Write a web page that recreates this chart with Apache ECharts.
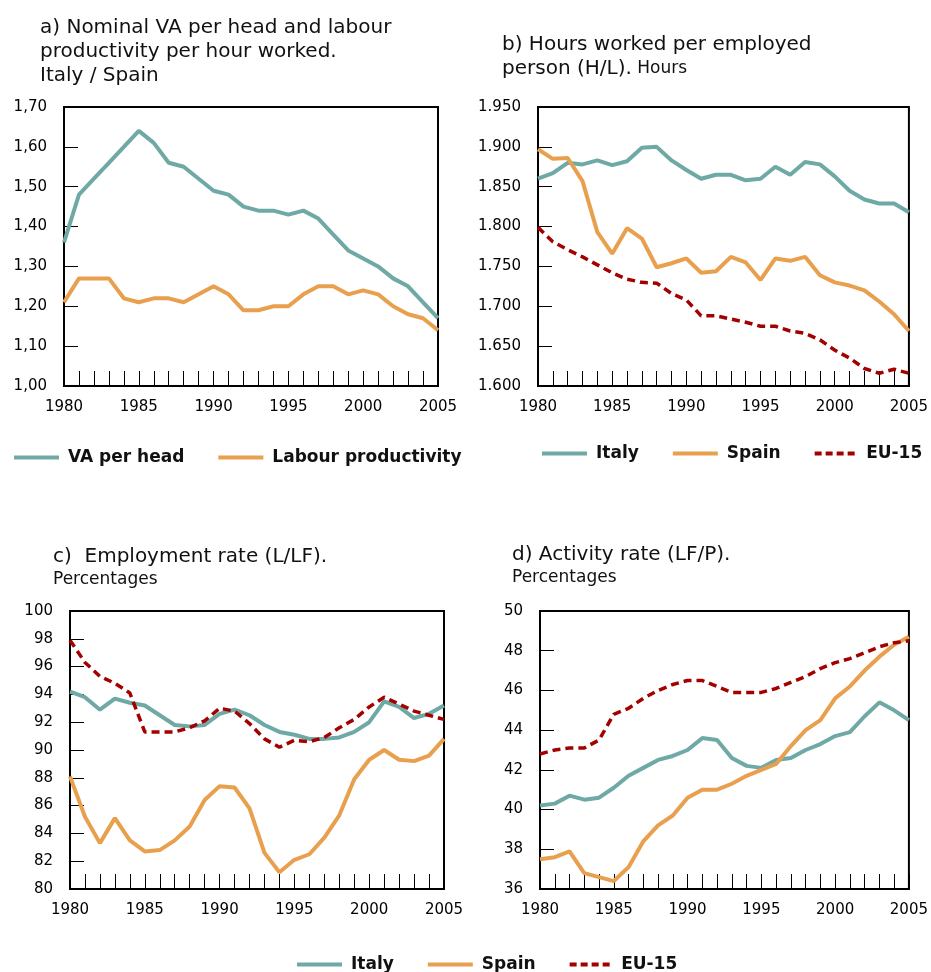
<!DOCTYPE html>
<html>
<head>
<meta charset="utf-8">
<script src="https://cdn.jsdelivr.net/npm/echarts@6/dist/echarts.min.js"></script>
<style>
  html, body { margin: 0; padding: 0; background: #fff; }
  #main { width: 931px; height: 972px; }
</style>
</head>
<body>
<div id="main"></div>
<script>
var myChart = echarts.init(document.getElementById('main'));

var years = [];
for (var y = 1980; y <= 2005; y++) years.push(String(y));

// a) Italy / Spain ratios
var vaPerHead = [1.36, 1.48, 1.52, 1.56, 1.60, 1.64, 1.61, 1.56, 1.55, 1.52, 1.49, 1.48, 1.45,
    1.44, 1.44, 1.43, 1.44, 1.42, 1.38, 1.34, 1.32, 1.30, 1.27, 1.25, 1.21, 1.17];
var labourProd = [1.21, 1.27, 1.27, 1.27, 1.22, 1.21, 1.22, 1.22, 1.21, 1.23, 1.25, 1.23, 1.19,
    1.19, 1.20, 1.20, 1.23, 1.25, 1.25, 1.23, 1.24, 1.23, 1.20, 1.18, 1.17, 1.14];

// b) hours worked per employed person
var hoursItaly = [1860, 1867, 1880, 1878, 1883, 1877, 1882, 1899, 1900, 1883, 1871, 1860, 1865,
    1865, 1858, 1860, 1875, 1865, 1881, 1878, 1863, 1845, 1834, 1829, 1829, 1818];
var hoursSpain = [1897, 1885, 1886, 1857, 1793, 1766, 1798, 1785, 1749, 1754, 1760, 1742, 1744,
    1762, 1755, 1733, 1760, 1757, 1762, 1739, 1730, 1726, 1720, 1706, 1690, 1669];
var hoursEU = [1799, 1781, 1771, 1762, 1752, 1742, 1734, 1730, 1729, 1716, 1708, 1688, 1688,
    1684, 1680, 1675, 1675, 1669, 1666, 1658, 1645, 1635, 1622, 1616, 1621, 1616];

// c) employment rate
var empItaly = [94.2, 93.8, 92.9, 93.7, 93.4, 93.2, 92.5, 91.8, 91.7, 91.8, 92.6, 92.9, 92.5,
    91.8, 91.3, 91.1, 90.8, 90.8, 90.9, 91.3, 92.0, 93.5, 93.1, 92.3, 92.6, 93.2];
var empSpain = [88.1, 85.2, 83.3, 85.1, 83.5, 82.7, 82.8, 83.5, 84.5, 86.4, 87.4, 87.3, 85.8,
    82.6, 81.2, 82.1, 82.5, 83.7, 85.3, 87.9, 89.3, 90.0, 89.3, 89.2, 89.6, 90.8];
var empEU = [97.9, 96.3, 95.3, 94.8, 94.1, 91.3, 91.3, 91.3, 91.6, 92.1, 93.0, 92.8, 91.9,
    90.8, 90.2, 90.7, 90.6, 90.9, 91.6, 92.2, 93.1, 93.8, 93.3, 92.8, 92.5, 92.2];

// d) activity rate
var actItaly = [40.2, 40.3, 40.7, 40.5, 40.6, 41.1, 41.7, 42.1, 42.5, 42.7, 43.0, 43.6, 43.5,
    42.6, 42.2, 42.1, 42.5, 42.6, 43.0, 43.3, 43.7, 43.9, 44.7, 45.4, 45.0, 44.5];
var actSpain = [37.5, 37.6, 37.9, 36.8, 36.6, 36.4, 37.1, 38.4, 39.2, 39.7, 40.6, 41.0, 41.0,
    41.3, 41.7, 42.0, 42.3, 43.2, 44.0, 44.5, 45.6, 46.2, 47.0, 47.7, 48.3, 48.7];
var actEU = [42.8, 43.0, 43.1, 43.1, 43.5, 44.8, 45.1, 45.6, 46.0, 46.3, 46.5, 46.5, 46.2,
    45.9, 45.9, 45.9, 46.1, 46.4, 46.7, 47.1, 47.4, 47.6, 47.9, 48.2, 48.4, 48.5];

var teal = '#6fa9a6';
var orange = '#e8a04f';
var red = '#a30000';
var font = 'DejaVu Sans';
var dashIcon = 'path://M0,0H7V4H0Z M11,0H18V4H11Z M22,0H29V4H22Z M33,0H40V4H33Z';

function xAxisFor(gi) {
    return {
        type: 'category',
        gridIndex: gi,
        data: years,
        boundaryGap: false,
        axisLine: { lineStyle: { color: '#000', width: 2 } },
        axisTick: { inside: true, length: 15, interval: 0, lineStyle: { color: '#000', width: 1 } },
        axisLabel: { interval: 4, margin: 14, color: '#000', fontFamily: font, fontSize: 15 },
        splitLine: { show: false }
    };
}

function yAxisFor(gi, min, max, interval, fmt) {
    return {
        type: 'value',
        gridIndex: gi,
        min: min,
        max: max,
        interval: interval,
        axisLine: { show: true, lineStyle: { color: '#000', width: 2 } },
        axisTick: { show: true, inside: true, length: 14, lineStyle: { color: '#000', width: 1 } },
        axisLabel: { margin: 17, color: '#000', fontFamily: font, fontSize: 15, formatter: fmt },
        splitLine: { show: false }
    };
}

function line(name, data, color, gi, dashed) {
    return {
        type: 'line',
        name: name,
        xAxisIndex: gi,
        yAxisIndex: gi,
        data: data,
        showSymbol: false,
        symbol: 'none',
        color: color,
        lineStyle: { color: color, width: dashed ? 3.5 : 4, type: dashed ? [8, 5] : 'solid' }
    };
}

var gridBox = { show: true, borderColor: '#000', borderWidth: 2, backgroundColor: 'transparent' };

function legendAt(names, left, top) {
    return {
        data: names.map(function (n) {
            return { name: n, icon: n === 'EU-15' ? dashIcon : 'rect' };
        }),
        left: left,
        top: top,
        padding: 0,
        itemGap: 34,
        itemWidth: 45,
        itemHeight: 4,
        textStyle: { color: '#111', fontFamily: font, fontSize: 17, fontWeight: 'bold', padding: [0, 0, 0, 4] }
    };
}

var titleText = { fontFamily: font, fontSize: 20, fontWeight: 'normal', color: '#111' };
var smallRich = { s: { fontFamily: font, fontSize: 17, color: '#111' } };

var option = {
    backgroundColor: '#fff',
    animation: false,
    title: [
        {
            text: 'a) Nominal VA per head and labour\nproductivity per hour worked.\nItaly / Spain',
            left: 40, top: 16, padding: 0,
            textStyle: Object.assign({ lineHeight: 24 }, titleText)
        },
        {
            text: 'b) Hours worked per employed\nperson (H/L).{s| Hours}',
            left: 502, top: 33, padding: 0,
            textStyle: Object.assign({ lineHeight: 24, rich: smallRich }, titleText)
        },
        {
            text: 'c)  Employment rate (L/LF).\n{s|Percentages}',
            left: 53, top: 545, padding: 0,
            textStyle: Object.assign({ lineHeight: 23, rich: smallRich }, titleText)
        },
        {
            text: 'd) Activity rate (LF/P).\n{s|Percentages}',
            left: 512, top: 543, padding: 0,
            textStyle: Object.assign({ lineHeight: 23, rich: smallRich }, titleText)
        }
    ],
    legend: [
        legendAt(['VA per head', 'Labour productivity'], 14, 449),
        legendAt(['Italy', 'Spain', 'EU-15'], 542, 445),
        legendAt(['Italy', 'Spain', 'EU-15'], 297, 956)
    ],
    grid: [
        Object.assign({ left: 64, top: 107, width: 374, height: 279 }, gridBox),
        Object.assign({ left: 538, top: 107, width: 374, height: 279 }, gridBox),
        Object.assign({ left: 70, top: 611, width: 374, height: 278 }, gridBox),
        Object.assign({ left: 540, top: 611, width: 374, height: 278 }, gridBox)
    ],
    xAxis: [xAxisFor(0), xAxisFor(1), xAxisFor(2), xAxisFor(3)],
    yAxis: [
        yAxisFor(0, 1.0, 1.7, 0.1, function (v) { return v.toFixed(2).replace('.', ','); }),
        yAxisFor(1, 1600, 1950, 50, function (v) {
            var r = String(v % 1000);
            while (r.length < 3) r = '0' + r;
            return Math.floor(v / 1000) + '.' + r;
        }),
        yAxisFor(2, 80, 100, 2, '{value}'),
        yAxisFor(3, 36, 50, 2, '{value}')
    ],
    series: [
        line('VA per head', vaPerHead, teal, 0),
        line('Labour productivity', labourProd, orange, 0),
        line('Italy', hoursItaly, teal, 1),
        line('Spain', hoursSpain, orange, 1),
        line('EU-15', hoursEU, red, 1, true),
        line('Italy', empItaly, teal, 2),
        line('Spain', empSpain, orange, 2),
        line('EU-15', empEU, red, 2, true),
        line('Italy', actItaly, teal, 3),
        line('Spain', actSpain, orange, 3),
        line('EU-15', actEU, red, 3, true)
    ]
};

myChart.setOption(option);
</script>
</body>
</html>
